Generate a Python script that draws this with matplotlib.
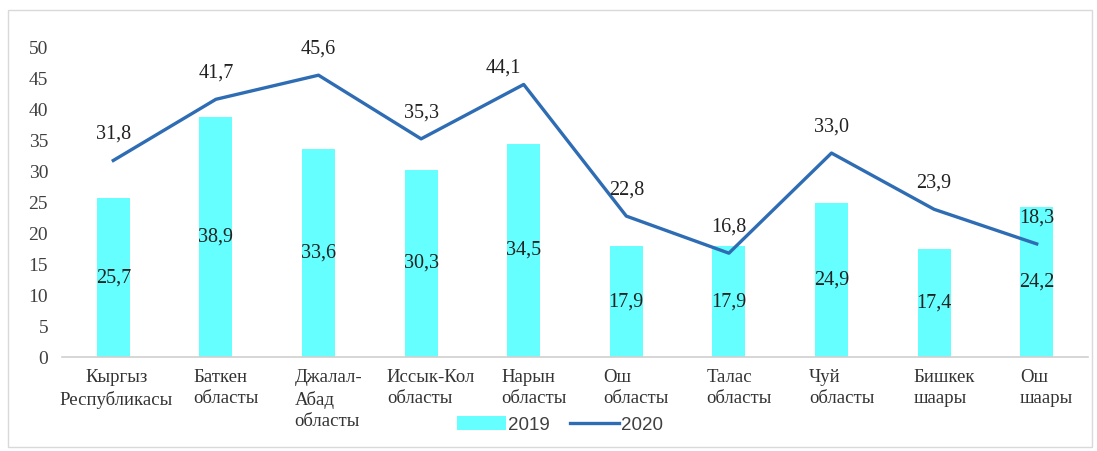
import matplotlib
matplotlib.use('Agg')
import matplotlib.pyplot as plt
from matplotlib.patches import Rectangle
import matplotlib.transforms as mtransforms
import numpy as np

# data
regions = ['Кыргыз\nРеспубликасы', 'Баткен\nобласты', 'Джалал-\nАбад\nобласты',
           'Иссык-Кол\nобласты', 'Нарын\nобласты', 'Ош\nобласты', 'Талас\nобласты',
           'Чуй\nобласты', 'Бишкек\nшаары', 'Ош\nшаары']
values_2019 = [25.7, 38.9, 33.6, 30.3, 34.5, 17.9, 17.9, 24.9, 17.4, 24.2]
values_2020 = [31.8, 41.7, 45.6, 35.3, 44.1, 22.8, 16.8, 33.0, 23.9, 18.3]
y_ticks = [0, 5, 10, 15, 20, 25, 30, 35, 40, 45, 50]

def fmt(v):
    return f'{v:.1f}'.replace('.', ',')

plt.rcParams['font.family'] = ['Liberation Serif', 'DejaVu Serif']

fig = plt.figure(figsize=(10.97, 4.51), dpi=100)
W, H = 1097, 451
ax = fig.add_axes([62 / W, 1 - 357 / H, (1088 - 62) / W, (357 - 48) / H])

# light border round the whole chart
fig.patches.append(Rectangle((8 / W, 1 - 447 / H), 1084 / W, 437 / H,
                             transform=fig.transFigure, fill=False,
                             edgecolor='#d9d9d9', linewidth=1))

x = np.arange(len(regions))
bars = ax.bar(x, values_2019, width=0.32, color='#66FFFF', label='2019', zorder=1)
line, = ax.plot(x, values_2020, color='#2E6CB4', linewidth=2.4, label='2020', zorder=2)

# labels inside bars (middle)
for xi, v in zip(x, values_2019):
    ax.text(xi, v / 2, fmt(v), ha='center', va='center', fontsize=14.5,
            color='#222222', zorder=3)

# labels above line points (offsets in pixels)
offsets = {4: (-20, 16)}
for i, (xi, v) in enumerate(zip(x, values_2020)):
    dx, dy = offsets.get(i, (0, 26))
    ax.annotate(fmt(v), (xi, v), xytext=(dx * 0.72, dy * 0.72),
                textcoords='offset points', ha='center', va='center',
                fontsize=14.5, color='#222222', zorder=3)

ax.set_xlim(-0.5, len(regions) - 0.5)
ax.set_ylim(0, 50)
ax.set_yticks(y_ticks)
ax.set_yticklabels([str(t) for t in y_ticks], fontsize=14, color='#404040')
ax.set_xticks(x)
ax.set_xticklabels(regions, fontsize=13.5, color='#333333',
                   multialignment='left', linespacing=1.3)
ax.tick_params(axis='y', length=0, pad=10)
ax.tick_params(axis='x', length=0, pad=9)

# category labels sit a little right of the category centre
shift = mtransforms.ScaledTranslation(10 / 100, 0, fig.dpi_scale_trans)
for i, lab in enumerate(ax.get_xticklabels()):
    if i == 0:
        lab.set_multialignment('center')
        lab.set_transform(lab.get_transform() + mtransforms.ScaledTranslation(3 / 100, 0, fig.dpi_scale_trans))
    else:
        lab.set_transform(lab.get_transform() + shift)

for s in ['top', 'right', 'left']:
    ax.spines[s].set_visible(False)
ax.spines['bottom'].set_color('#d0d0d0')
ax.spines['bottom'].set_linewidth(1.2)

fig.legend([bars, line], ['2019', '2020'], loc='center',
           bbox_to_anchor=(560 / W, 1 - 425 / H), ncol=2,
           frameon=False, handlelength=2.6, columnspacing=1.1, handletextpad=0.1,
           prop={'family': 'Liberation Sans', 'size': 13.5}, labelcolor='#404040')

fig.savefig('out.png', dpi=100)
